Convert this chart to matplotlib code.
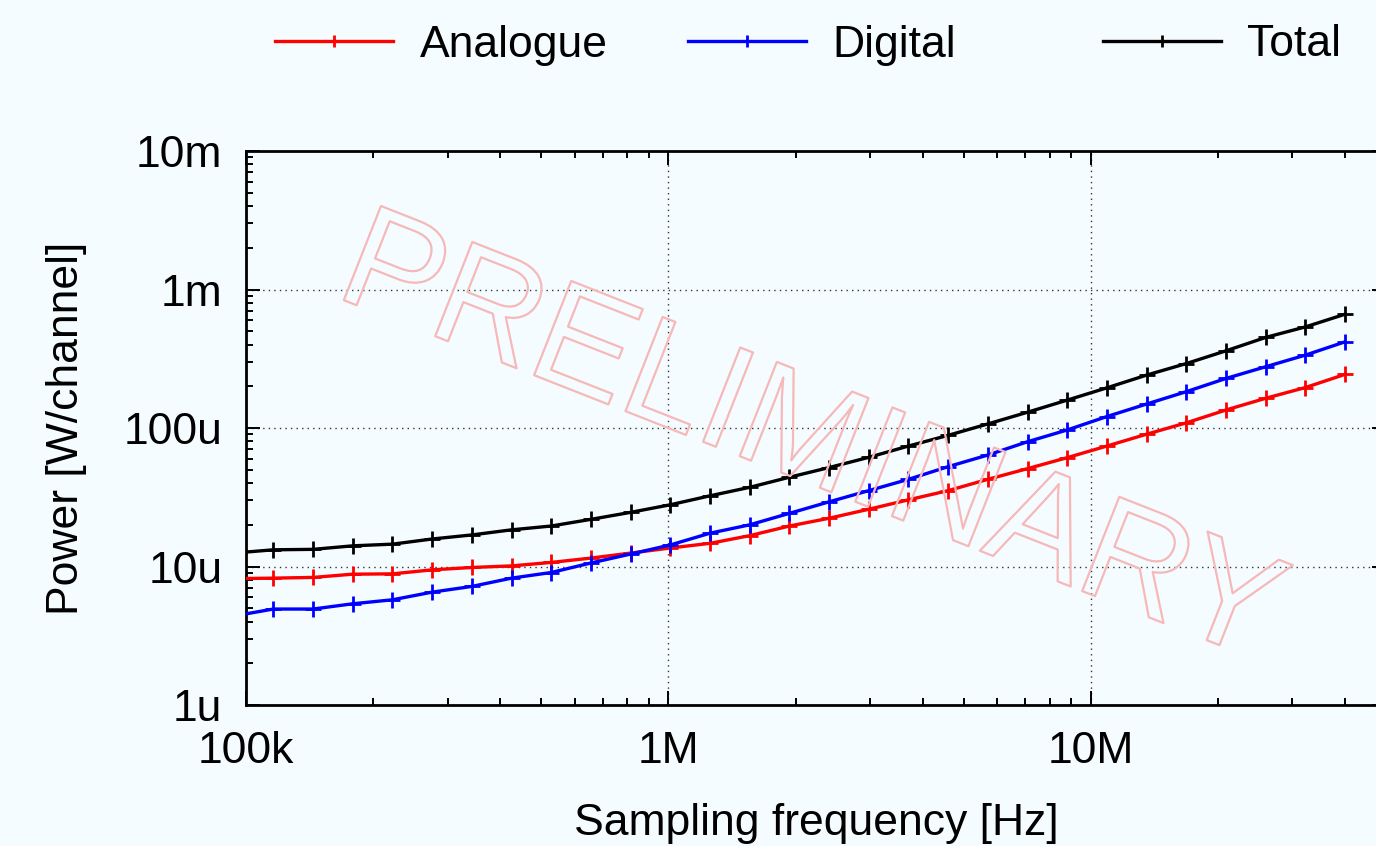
import matplotlib
matplotlib.use('Agg')
import matplotlib.pyplot as plt
import matplotlib.patheffects as pe
from matplotlib.ticker import LogLocator, FixedLocator, FixedFormatter, NullFormatter

plt.rcParams['font.family'] = ['Liberation Sans', 'DejaVu Sans']

# sampling frequencies of the simulated points [Hz]
freq = [93.5e3, 116.1e3, 144.1e3, 178.9e3, 222.2e3, 275.9e3, 342.5e3, 425.3e3,
        527.9e3, 655.5e3, 813.8e3, 1.010e6, 1.255e6, 1.558e6, 1.934e6, 2.401e6,
        2.981e6, 3.702e6, 4.596e6, 5.706e6, 7.085e6, 8.797e6, 10.92e6, 13.56e6,
        16.84e6, 20.91e6, 25.96e6, 32.23e6, 40.0e6]

# power per channel in microwatts
analogue_uw = [8.17, 8.24, 8.34, 8.8, 8.85, 9.46, 9.84, 10.1, 10.7, 11.5, 12.5,
               13.6, 14.7, 16.7, 19.6, 22.3, 25.9, 30.3, 35.3, 42.6, 50.9, 61.1,
               74.1, 90.2, 109, 135, 164, 196, 244]
digital_uw = [4.39, 4.93, 4.93, 5.38, 5.75, 6.53, 7.18, 8.24, 9.05, 10.6, 12.3,
              14.3, 17.4, 20.0, 24.2, 29.3, 35.3, 42.6, 52.6, 63.8, 79.6, 96.8,
              121, 149, 183, 228, 277, 336, 419]
total_uw = [12.5, 13.2, 13.3, 14.1, 14.5, 15.8, 16.9, 18.4, 19.6, 21.9, 24.6,
            27.9, 32.4, 37.3, 44.1, 51.8, 61.4, 74.1, 88.5, 107, 130, 159,
            195, 241, 292, 361, 451, 537, 663]

series_names = ['Analogue', 'Digital', 'Total']
series_colors = ['#ff0000', '#0000ff', '#000000']

xticks = [1e5, 1e6, 1e7]
xtick_labels = ['100k', '1M', '10M']
yticks = [1e-6, 1e-5, 1e-4, 1e-3, 1e-2]
ytick_labels = ['1u', '10u', '100u', '1m', '10m']

bg = '#f5fcff'
W, H = 1376, 846
fig = plt.figure(figsize=(W / 100, H / 100), dpi=100, facecolor=bg)
ax = fig.add_axes([246 / W, 1 - 705 / H, (1386 - 246) / W, (705 - 151) / H])
ax.set_facecolor(bg)

ax.set_xscale('log')
ax.set_yscale('log')
ax.set_xlim(1e5, 5e7)
ax.set_ylim(1e-6, 1e-2)

lines = []
for vals, name, col in zip([analogue_uw, digital_uw, total_uw], series_names, series_colors):
    ln, = ax.plot(freq, [v * 1e-6 for v in vals], color=col, lw=2.4, marker='+',
                  ms=12, mew=2.0, label=name, zorder=3)
    lines.append(ln)

ax.xaxis.set_major_locator(FixedLocator(xticks))
ax.xaxis.set_major_formatter(FixedFormatter(xtick_labels))
ax.yaxis.set_major_locator(FixedLocator(yticks))
ax.yaxis.set_major_formatter(FixedFormatter(ytick_labels))
ax.xaxis.set_minor_locator(LogLocator(base=10, subs=range(2, 10), numticks=20))
ax.yaxis.set_minor_locator(LogLocator(base=10, subs=range(2, 10), numticks=20))
ax.xaxis.set_minor_formatter(NullFormatter())
ax.yaxis.set_minor_formatter(NullFormatter())

ax.tick_params(which='both', direction='in', top=True, right=True, width=1.4,
               labelsize=32, colors='black')
ax.tick_params(which='major', length=10)
ax.tick_params(which='minor', length=5)
ax.tick_params(axis='x', which='major', pad=19)
ax.tick_params(axis='y', which='major', pad=17)

ax.grid(True, which='major', color='#333333', lw=1.0, ls=(0, (1, 3)))
for sp in ax.spines.values():
    sp.set_linewidth(2.0)

ax.set_xlabel('Sampling frequency [Hz]', fontsize=32, labelpad=22)
ax.set_ylabel('Power [W/channel]', fontsize=32, labelpad=26)

# outlined watermark across the plot area
fig.text(810 / W, 1 - 443 / H, 'PRELIMINARY', fontsize=106, rotation=-21.5,
         ha='center', va='center', rotation_mode='anchor', color='none',
         path_effects=[pe.Stroke(linewidth=1.6, foreground='#f6b8b8')], zorder=5)

# legend entries spread across the top in fixed columns
for ln, xpos in zip(lines, [275, 688, 1103]):
    fig.legend([ln], [ln.get_label()], loc='center left',
               bbox_to_anchor=(xpos / W, 1 - 45 / H), frameon=False,
               fontsize=32, handlelength=2.65, handletextpad=0.6,
               borderpad=0, borderaxespad=0, markerscale=0.7)

fig.savefig('out.png', dpi=100, facecolor=bg)
